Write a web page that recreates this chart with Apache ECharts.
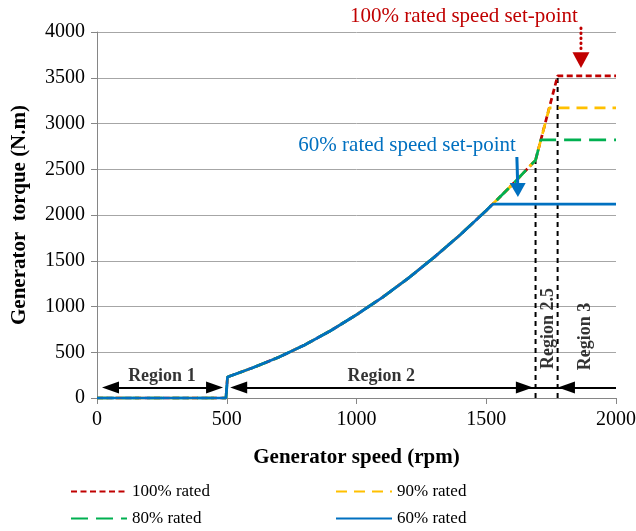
<!DOCTYPE html>
<html>
<head>
<meta charset="utf-8">
<script src="https://cdn.jsdelivr.net/npm/echarts@6/dist/echarts.min.js"></script>
<style>html,body{margin:0;padding:0;background:#fff}#c{width:636px;height:531px}</style>
</head>
<body>
<div id="c"></div>
<script>
// ---- data ----
const speedBase  = [0, 497, 503, 600, 700, 800, 900, 1000, 1100, 1200, 1300, 1400, 1500];
const torqueBase = [0, 0, 230, 330, 445, 580, 735, 910, 1100, 1310, 1540, 1785, 2050];
const speed60  = [1526, 2000];
const torque60 = [2120, 2120];
const speed80  = [1600, 1690, 1710, 2000];
const torque80 = [2330, 2600, 2820, 2820];
const speed90  = [1600, 1690, 1743, 2000];
const torque90 = [2330, 2600, 3170, 3170];
const speed100  = [1600, 1690, 1775, 2000];
const torque100 = [2330, 2600, 3520, 3520];
const seriesNames = ['100% rated', '90% rated', '80% rated', '60% rated'];
const boundSpeed = [1690, 1775];
const boundTop = [2600, 3520];
const regionNames = ['Region 1', 'Region 2', 'Region 2.5', 'Region 3'];
const regionLabelPos = [[250, 240], [1095, 240], [1738, 760], [1880, 672]];
const arrowRow = 115;
const xTicks = [0, 500, 1000, 1500, 2000];
const yTicks = [0, 500, 1000, 1500, 2000, 2500, 3000, 3500, 4000];

function pts(xs, ys) { return xs.map((x, i) => [x, ys[i]]); }
const base = pts(speedBase, torqueBase);

const FONT = '"Liberation Serif", "Times New Roman", serif';
const colors = ['#C00000', '#FFC000', '#00B050', '#0070C0'];
const dashes = [[6, 3.5], [11, 7], [17, 8], 'solid'];
const seriesData = [
  base.concat(pts(speed100, torque100)),
  base.concat(pts(speed90, torque90)),
  base.concat(pts(speed80, torque80)),
  base.concat(pts(speed60, torque60))
];

const chart = echarts.init(document.getElementById('c'), null, {renderer: 'canvas'});

const series = seriesNames.map((n, i) => ({
  name: n, type: 'line', data: seriesData[i], symbol: 'none', showSymbol: false,
  lineStyle: {color: colors[i], width: 2.75, type: dashes[i]},
  itemStyle: {color: colors[i]},
  z: 3 + i, animation: false
}));

const tri = 'triangle';
boundSpeed.forEach((s, i) => {
  const ser = {
    type: 'line', data: [[s, 0], [s, boundTop[i]]], symbol: 'none',
    lineStyle: {color: '#000', width: 2, type: [5, 4]}, z: 2, silent: true, animation: false
  };
  if (i === 0) {
    ser.markLine = {
      silent: true, animation: false, symbol: [tri, tri], symbolSize: [12, 17],
      label: {show: false},
      lineStyle: {color: '#000', width: 2, type: 'solid'},
      data: [
        [{coord: [52, arrowRow]}, {coord: [453, arrowRow]}],
        [{coord: [546, arrowRow]}, {coord: [1647, arrowRow]}],
        [{coord: [1647, arrowRow], symbol: 'none'}, {coord: [1809, arrowRow], symbol: 'none'}],
        [{coord: [1809, arrowRow], symbol: tri}, {coord: [2000, arrowRow], symbol: 'none'}]
      ]
    };
  }
  series.push(ser);
});

series.push({
  type: 'scatter', symbolSize: 0, silent: true, animation: false, z: 10,
  itemStyle: {color: '#000'},
  data: regionNames.map((n, i) => ({
    name: n, value: regionLabelPos[i],
    label: {rotate: i >= 2 ? 90 : 0}
  })),
  label: {show: true, position: 'inside', formatter: p => p.name,
    fontFamily: FONT, fontWeight: 'bold', fontSize: 18, color: '#000',
    textBorderWidth: 0, textBorderColor: 'transparent'}
});

const legendCommon = {
  orient: 'vertical', top: 483, padding: 0, itemWidth: 56, itemHeight: 14, itemGap: 10,
  itemStyle: {opacity: 0, borderWidth: 0},
  textStyle: {fontFamily: FONT, fontSize: 17, color: '#000'}, selectedMode: false
};

const option = {
  backgroundColor: '#fff',
  animation: false,
  grid: {left: 97, right: 20, top: 32, bottom: 133, containLabel: false, outerBoundsMode: 'none'},
  legend: [
    Object.assign({left: 70, data: [seriesNames[0], seriesNames[2]]}, legendCommon),
    Object.assign({left: 335, data: [seriesNames[1], seriesNames[3]]}, legendCommon)
  ],
  xAxis: {
    type: 'value', min: 0, max: 2000, interval: 500,
    name: 'Generator speed (rpm)', nameLocation: 'middle', nameGap: 49,
    nameTextStyle: {fontFamily: FONT, fontWeight: 'bold', fontSize: 21, color: '#000'},
    axisLine: {show: true, lineStyle: {color: '#868686', width: 1}},
    axisTick: {show: true, inside: false, length: 6, lineStyle: {color: '#868686'}},
    axisLabel: {fontFamily: FONT, fontSize: 20, color: '#000', margin: 12,
      formatter: v => xTicks.includes(v) ? String(v) : ''},
    splitLine: {show: false}
  },
  yAxis: {
    type: 'value', min: 0, max: 4000, interval: 500,
    name: 'Generator  torque (N.m)', nameLocation: 'middle', nameGap: 67,
    nameTextStyle: {fontFamily: FONT, fontWeight: 'bold', fontSize: 21, color: '#000', whiteSpace: 'pre'},
    axisLine: {show: true, lineStyle: {color: '#868686', width: 1}},
    axisTick: {show: true, inside: false, length: 6, lineStyle: {color: '#868686'}},
    axisLabel: {fontFamily: FONT, fontSize: 20, color: '#000', margin: 12,
      formatter: v => yTicks.includes(v) ? String(v) : ''},
    splitLine: {show: true, lineStyle: {color: '#A6A6A6', width: 1}}
  },
  series: series
};
chart.setOption(option);

// ---- annotations anchored in data coordinates ----
const note100 = {text: '100% rated speed set-point', at: [1414, 4170], color: '#C00000'};
const note60 = {text: '60% rated speed set-point', at: [1195, 2765], color: '#0070C0'};
const arrow100 = {from: [1865, 4045], base: [1865, 3780], tip: [1865, 3607]};
const arrow60 = {from: [1618, 2634], base: [1621, 2350], tip: [1622, 2197]};

const P = v => chart.convertToPixel({gridIndex: 0}, v);
function textEl(n) {
  const p = P(n.at);
  return {type: 'text', x: p[0], y: p[1], z: 20, style: {text: n.text, fill: n.color,
    font: '21px ' + FONT, textAlign: 'center', textVerticalAlign: 'middle'}};
}
function arrowEls(a, color, dash, headW, lw) {
  const f = P(a.from), b = P(a.base), t = P(a.tip);
  return [
    {type: 'line', z: 20, shape: {x1: f[0], y1: f[1], x2: b[0], y2: b[1]},
      style: {stroke: color, lineWidth: lw, lineDash: dash, lineCap: dash ? 'round' : 'butt'}},
    {type: 'polygon', z: 20, shape: {points: [[b[0] - headW / 2, b[1]], [b[0] + headW / 2, b[1]], [t[0], t[1]]]},
      style: {fill: color}}
  ];
}
chart.setOption({
  graphic: [textEl(note100), textEl(note60)]
    .concat(arrowEls(arrow100, '#C00000', [0.5, 4.5], 17, 3))
    .concat(arrowEls(arrow60, '#0070C0', null, 16, 3))
});
</script>
</body>
</html>
